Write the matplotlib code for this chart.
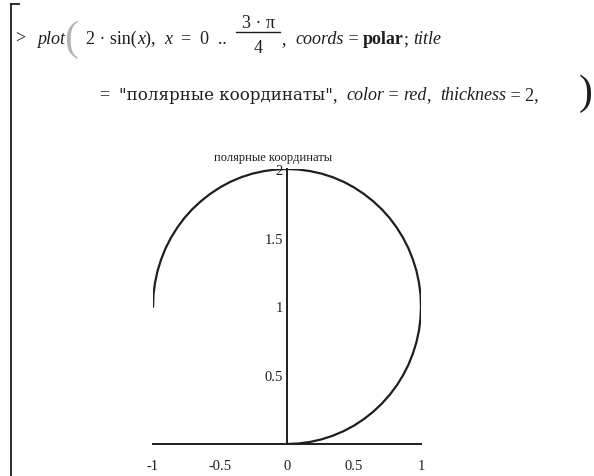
import numpy as np
import matplotlib.pyplot as plt
from matplotlib.lines import Line2D

plt.rcParams['font.family'] = ['Liberation Serif', 'DejaVu Serif']

W, H = 594, 477

# points of r = 2*sin(t), t = 0 .. 3*pi/4 (t in degrees)
theta_deg = [0, 2.5, 5, 7.5, 10, 12.5, 15, 17.5, 20, 22.5, 25, 27.5, 30,
             32.5, 35, 37.5, 40, 42.5, 45, 47.5, 50, 52.5, 55, 57.5, 60,
             62.5, 65, 67.5, 70, 72.5, 75, 77.5, 80, 82.5, 85, 87.5, 90,
             92.5, 95, 97.5, 100, 102.5, 105, 107.5, 110, 112.5, 115, 117.5,
             120, 122.5, 125, 127.5, 130, 132.5, 135]
radius = [0.0, 0.087, 0.174, 0.261, 0.347, 0.433, 0.518, 0.601, 0.684,
          0.765, 0.845, 0.924, 1.0, 1.075, 1.147, 1.218, 1.286, 1.351, 1.414,
          1.475, 1.532, 1.587, 1.638, 1.687, 1.732, 1.774, 1.813, 1.848,
          1.879, 1.907, 1.932, 1.953, 1.970, 1.983, 1.992, 1.998, 2.0,
          1.998, 1.992, 1.983, 1.970, 1.953, 1.932, 1.907, 1.879, 1.848,
          1.813, 1.774, 1.732, 1.687, 1.638, 1.587, 1.532, 1.475, 1.414]

x_ticks = [-1, -0.5, 0, 0.5, 1]
x_labels = ['-1', '-0.5', '0', '0.5', '1']
y_ticks = [0.5, 1, 1.5, 2]
y_labels = ['0.5', '1', '1.5', '2']

title = 'полярные координаты'

ink = '#1e1e1e'
FS = 13


def fx(px):
    return px / W


def fy(py):
    return 1 - py / H


fig = plt.figure(figsize=(W / 100, H / 100), dpi=100)
fig.patch.set_facecolor('white')
renderer = fig.canvas.get_renderer()


def run(pieces, x0, y0, size=FS, family=None):
    # text pieces one after another on one baseline
    x = x0
    for txt, style, weight in pieces:
        t = fig.text(fx(x), fy(y0), txt, fontsize=size, style=style,
                     weight=weight, color=ink, va='baseline', ha='left')
        if family:
            t.set_family(family)
        x += t.get_window_extent(renderer).width
    return x


N, I, B = 'normal', 'italic', 'bold'

# --- Maple input bracket ---
fig.add_artist(Line2D([fx(11), fx(11)], [fy(5), fy(477)], color=ink, lw=1.3))
fig.add_artist(Line2D([fx(11), fx(19)], [fy(5), fy(5)], color=ink, lw=1.3))

# line 1
base1 = 44
run([('>', N, N)], 15, base1)
run([('plot', I, N)], 37, base1)
fig.text(fx(64), fy(40), '(', fontsize=30, color='#b4b4b4', va='center',
         ha='left')
xe = run([('2 · sin(', N, N), ('x', I, N), ('),  ', N, N),
          ('x', I, N), ('  =  0  ..  ', N, N)], 86, base1)
# fraction 3*pi / 4
fw = 44
fig.add_artist(Line2D([fx(xe), fx(xe + fw)], [fy(33), fy(33)], color=ink,
                      lw=1.0))
fig.text(fx(xe + fw / 2), fy(28), '3 · π', fontsize=FS, color=ink,
         ha='center', va='baseline')
fig.text(fx(xe + fw / 2), fy(53), '4', fontsize=FS, color=ink,
         ha='center', va='baseline')
run([(',  ', N, N), ('coords', I, N), (' = ', N, N), ('polar', N, B),
     ('; ', N, N), ('title', I, N)], xe + fw + 2, base1)

# line 2
base2 = 100
xe = run([('=  ', N, N)], 100, base2)
xe = run([('"полярные координаты"', N, N)], xe, base2, size=12,
         family=['DejaVu Serif'])
run([(',  ', N, N), ('color', I, N), (' = ', N, N), ('red', I, N),
     (',  ', N, N), ('thickness', I, N), (' = 2,', N, N)], xe, base2)
fig.text(fx(579), fy(94), ')', fontsize=30, color=ink, va='center', ha='left')

# --- the plot ---
ax = fig.add_axes([fx(153), fy(445), (421 - 153) / W, (445 - 170) / H])
th = np.radians(theta_deg)
r = np.array(radius)
ax.plot(r * np.cos(th), r * np.sin(th), color=ink, lw=1.6,
        solid_joinstyle='round')
ax.set_xlim(-1, 1)
ax.set_ylim(0, 2)
for s in ['top', 'right']:
    ax.spines[s].set_visible(False)
ax.spines['left'].set_position(('data', 0))
ax.spines['bottom'].set_position(('data', 0))
for s in ['left', 'bottom']:
    ax.spines[s].set_color(ink)
    ax.spines[s].set_linewidth(1.4)
ax.set_xticks(x_ticks)
ax.set_xticklabels(x_labels)
ax.set_yticks(y_ticks)
ax.set_yticklabels(y_labels)
ax.tick_params(length=0, labelsize=10.5, colors=ink)
ax.tick_params(axis='x', pad=11)
ax.tick_params(axis='y', pad=3)
ax.patch.set_alpha(0)

fig.text(fx(273), fy(158), title, fontsize=9, color=ink, ha='center',
         va='center')

fig.savefig('out.png', dpi=100)
